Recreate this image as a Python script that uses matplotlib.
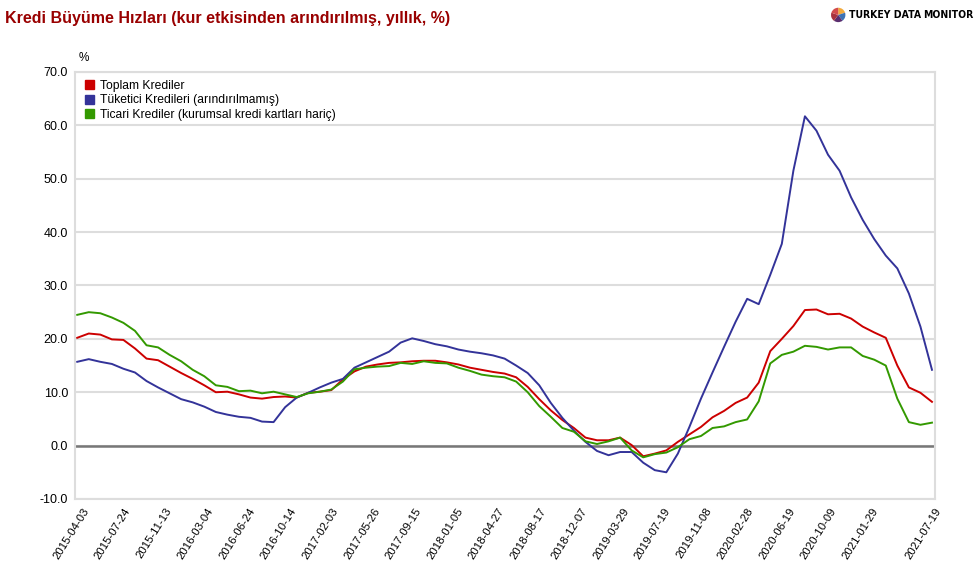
'''
Kredi büyüme hızları: toplam, tüketici ve ticari krediler (yıllık %).
'''
import numpy as np
import pandas as pd
import matplotlib.pyplot as plt
from matplotlib import font_manager

# Values, roughly monthly from 2015-03-20 to 2021-07-11
toplam = [20.2, 21.0, 20.8, 19.9, 19.8, 18.2, 16.3, 16.0, 14.8, 13.6,
          12.5, 11.3, 10.0, 10.1, 9.6, 9.0, 8.8, 9.1, 9.2, 9.0,
          9.9, 10.1, 10.4, 12.4, 13.9, 14.8, 15.2, 15.5, 15.6, 15.8,
          15.9, 15.9, 15.6, 15.2, 14.6, 14.2, 13.8, 13.5, 12.8, 11.0,
          8.7, 6.6, 4.8, 3.3, 1.5, 1.0, 1.0, 1.5, 0.1, -2.0,
          -1.5, -0.9, 0.7, 2.1, 3.5, 5.3, 6.5, 8.0, 9.0, 11.8,
          17.7, 20.0, 22.4, 25.4, 25.5, 24.6, 24.7, 23.8, 22.3, 21.2,
          20.2, 15.0, 10.9, 9.9, 8.2]
tuketici = [15.7, 16.2, 15.7, 15.3, 14.4, 13.7, 12.1, 10.9, 9.8, 8.7,
            8.1, 7.3, 6.3, 5.8, 5.4, 5.2, 4.5, 4.4, 7.2, 9.0,
            9.9, 10.9, 11.8, 12.5, 14.6, 15.6, 16.6, 17.6, 19.3, 20.1,
            19.6, 19.0, 18.6, 18.0, 17.6, 17.3, 16.9, 16.3, 15.0, 13.6,
            11.3, 8.0, 5.2, 2.8, 0.7, -1.0, -1.8, -1.2, -1.2, -3.2,
            -4.6, -5.0, -1.5, 3.5, 8.8, 13.7, 18.5, 23.2, 27.5, 26.5,
            32.0, 37.8, 51.5, 61.7, 59.0, 54.5, 51.5, 46.5, 42.3, 38.7,
            35.6, 33.2, 28.5, 22.3, 14.2]
ticari = [24.5, 25.0, 24.8, 24.0, 23.0, 21.5, 18.8, 18.4, 17.0, 15.8,
          14.2, 13.0, 11.3, 11.0, 10.2, 10.3, 9.8, 10.1, 9.6, 9.1,
          9.8, 10.1, 10.5, 12.0, 14.3, 14.6, 14.8, 14.9, 15.5, 15.3,
          15.8, 15.5, 15.4, 14.6, 14.0, 13.3, 13.0, 12.8, 12.0, 10.0,
          7.4, 5.4, 3.3, 2.6, 0.8, 0.3, 0.8, 1.5, -0.9, -2.2,
          -1.6, -1.3, -0.3, 1.2, 1.8, 3.3, 3.6, 4.4, 4.9, 8.3,
          15.4, 17.0, 17.6, 18.7, 18.5, 18.0, 18.4, 18.4, 16.8, 16.1,
          15.0, 8.8, 4.4, 3.9, 4.3]

tick_labels = ['2015-04-03', '2015-07-24', '2015-11-13', '2016-03-04', '2016-06-24',
               '2016-10-14', '2017-02-03', '2017-05-26', '2017-09-15', '2018-01-05',
               '2018-04-27', '2018-08-17', '2018-12-07', '2019-03-29', '2019-07-19',
               '2019-11-08', '2020-02-28', '2020-06-19', '2020-10-09', '2021-01-29',
               '2021-07-19']

series_names = ['Toplam Krediler', 'Tüketici Kredileri (arındırılmamış)',
                'Ticari Krediler (kurumsal kredi kartları hariç)']
colors = ['#cc0000', '#333399', '#339900']

plt.rcParams['font.family'] = ['Liberation Sans', 'DejaVu Sans']

dates = pd.date_range('2015-03-20', '2021-07-11', periods=len(toplam))
tick_dates = pd.to_datetime(tick_labels)

fig = plt.figure(figsize=(9.79, 5.70), dpi=100)
ax = fig.add_axes([0.0766, 0.1246, 0.8784, 0.7491])

for vals, name, c in zip([toplam, tuketici, ticari], series_names, colors):
    ax.plot(dates, vals, color=c, lw=1.4, label=name)

ax.set_xlim(pd.Timestamp('2015-03-14'), pd.Timestamp('2021-07-19'))
ax.set_ylim(-10, 70)
ax.set_yticks(np.arange(-10, 71, 10))
ax.set_yticklabels([f'{v:.1f}' for v in np.arange(-10, 71, 10)], fontsize=9)
ax.set_xticks(tick_dates)
ax.set_xticklabels(tick_labels, rotation=58, ha='right', rotation_mode='anchor', fontsize=8.2)
ax.tick_params(length=0)
ax.tick_params(axis='y', pad=5)
ax.tick_params(axis='x', pad=5)

ax.grid(axis='y', color='#dddddd', lw=1.5)
ax.set_axisbelow(True)
ax.axhline(0, color='#777777', lw=1.8, zorder=1.5)
for s in ax.spines.values():
    s.set_color('#dddddd')
    s.set_linewidth(1.5)

ax.text(0.004, 1.018, '%', transform=ax.transAxes, fontsize=8.5, va='bottom')

handles = [plt.Rectangle((0, 0), 1, 1, color=c) for c in colors]
ax.legend(handles, series_names, loc='upper left', bbox_to_anchor=(0.0, 1.004),
          frameon=False, fontsize=8.7, handlelength=0.8, handleheight=0.8,
          handletextpad=0.45, labelspacing=0.2, borderaxespad=0.4)

fig.text(0.005, 0.968, 'Kredi Büyüme Hızları (kur etkisinden arındırılmış, yıllık, %)',
         fontsize=11.5, fontweight='bold', color='#990000', va='center')

# logo: small pie and a narrow bold name, if a narrow face is installed
narrow = [f for f in font_manager.fontManager.ttflist
          if ('Narrow' in f.name or 'Condensed' in f.name or 'condensed' in str(f.stretch))
          and f.weight in ('bold', 700)]
if narrow:
    logo_prop = font_manager.FontProperties(fname=narrow[0].fname, size=7.5)
else:
    logo_prop = font_manager.FontProperties(family='Liberation Sans', weight='bold', size=5.9)

lax = fig.add_axes([0.847, 0.958, 0.0184, 0.0316])
lax.pie([1, 1, 1, 1, 1], colors=['#f2a93b', '#3d72b4', '#5a2d6e', '#a8323e', '#d24b4b'],
        startangle=90, counterclock=False)
lax.set_aspect('equal')
t1 = fig.text(0.867, 0.974, 'TURKEY DATA', fontproperties=logo_prop, va='center')
ax.annotate('MONITOR', xy=(1, 0.5), xycoords=t1, xytext=(1.5, 0),
            textcoords='offset points', va='center', fontproperties=logo_prop)

plt.savefig('out.png', dpi=100)
plt.close()
